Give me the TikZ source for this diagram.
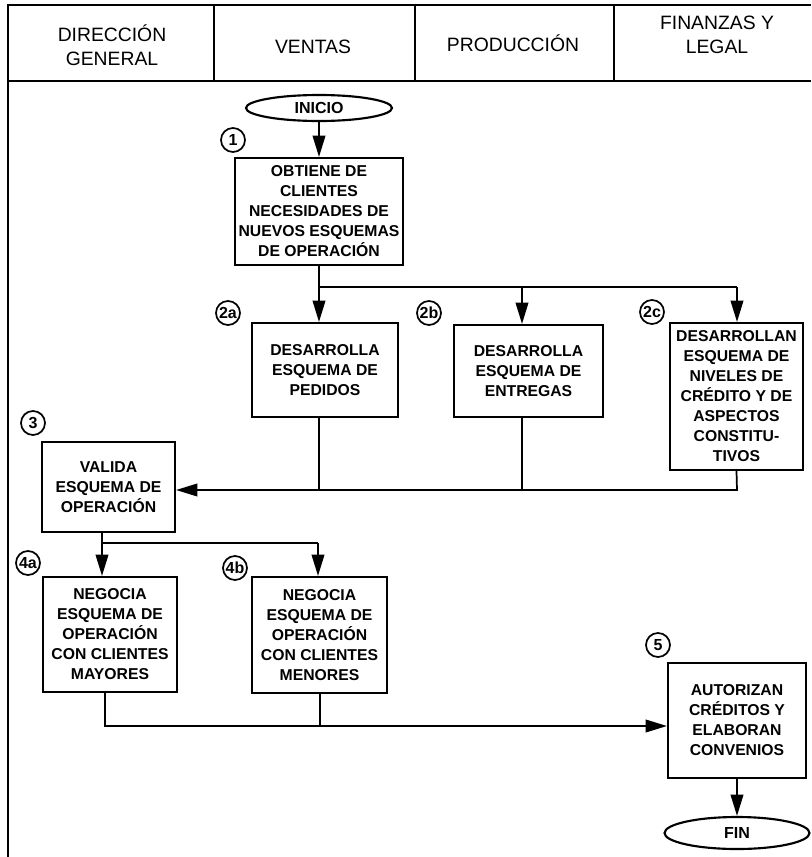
\documentclass[tikz,border=0pt]{standalone}
\usepackage{fontspec}
\setmainfont{Liberation Sans}
\usetikzlibrary{arrows.meta,shapes.geometric}

\tikzset{
  lane/.style={line width=1.2pt},
  hdr/.style={align=center,font=\fontsize{14.5}{18}\selectfont},
  proc/.style={draw,line width=1.6pt,align=center,inner sep=2pt,font=\bfseries\fontsize{11.8}{15}\selectfont},
  term/.style={draw,ellipse,line width=1.6pt,inner sep=0pt,font=\bfseries\fontsize{12}{14}\selectfont},
  num/.style={draw,circle,line width=1.3pt,inner sep=0.5pt,minimum size=18pt,font=\bfseries\fontsize{12}{13}\selectfont},
  flow/.style={line width=1.3pt},
  arr/.style={flow,-{Triangle[length=16pt,width=9.5pt]}}
}

\begin{document}
\begin{tikzpicture}[x=0.75pt,y=-0.75pt]
  \useasboundingbox (0,0) rectangle (811,857);
  % carriles
  \draw[lane] (8,857) -- (8,5) -- (811,5);
  \draw[lane] (8,81) -- (811,81);
  \foreach \xx in {214,415,614} \draw[lane] (\xx,5) -- (\xx,81);
  \node[hdr] (hdg) at (112,45) {DIRECCIÓN\\GENERAL};
  \node[hdr] (hven) at (313,47) {VENTAS};
  \node[hdr] (hpro) at (513,43) {PRODUCCIÓN};
  \node[hdr] (hfin) at (717,35) {FINANZAS Y\\LEGAL};

  % pasos
  \node[term,minimum width=109.5pt,minimum height=19.5pt] (ini) at (319,108) {INICIO};
  \node[proc,minimum width=126pt,minimum height=80.25pt] (b1) at (319,211.5) {OBTIENE DE\\CLIENTES\\NECESIDADES DE\\NUEVOS ESQUEMAS\\DE OPERACIÓN};
  \node[proc,minimum width=109.5pt,minimum height=70.5pt] (b2a) at (325,370) {DESARROLLA\\ESQUEMA DE\\PEDIDOS};
  \node[proc,minimum width=111.75pt,minimum height=69pt] (b2b) at (528.5,371) {DESARROLLA\\ESQUEMA DE\\ENTREGAS};
  \node[proc,minimum width=99.75pt,minimum height=110.25pt] (b2c) at (736.5,396.5) {DESARROLLAN\\ESQUEMA DE\\NIVELES DE\\CRÉDITO Y DE\\ASPECTOS\\CONSTITU-\\TIVOS};
  \node[proc,minimum width=99.75pt,minimum height=67.5pt] (b3) at (108.5,487) {VALIDA\\ESQUEMA DE\\OPERACIÓN};
  \node[proc,minimum width=100.5pt,minimum height=86.25pt] (b4a) at (110,634.5) {NEGOCIA\\ESQUEMA DE\\OPERACIÓN\\CON CLIENTES\\MAYORES};
  \node[proc,minimum width=101.25pt,minimum height=87pt] (b4b) at (319.5,635) {NEGOCIA\\ESQUEMA DE\\OPERACIÓN\\CON CLIENTES\\MENORES};
  \node[proc,minimum width=103.5pt,minimum height=86.25pt] (b5) at (737,720.5) {AUTORIZAN\\CRÉDITOS Y\\ELABORAN\\CONVENIOS};
  \node[term,minimum width=108.75pt,minimum height=24pt] (fin) at (737,833) {FIN};

  % numeros
  \node[num] (n1) at (233,140) {1};
  \node[num] (n2a) at (228,313) {2a};
  \node[num] (n2b) at (429,313) {2b};
  \node[num] (n2c) at (652,312) {2c};
  \node[num] (n3) at (33,423) {3};
  \node[num] (n4a) at (28,563) {4a};
  \node[num] (n4b) at (235,568) {4b};
  \node[num] (n5) at (658,645) {5};

  % conexiones
  \coordinate (sp1) at (319,287);
  \coordinate (k2b) at (522,287);
  \coordinate (k2c) at (737,287);
  \coordinate (rt) at (737,490);
  \coordinate (sp2) at (102,543);
  \coordinate (k4b) at (318,543);
  \coordinate (mg4a) at (105,726);
  \coordinate (mg4b) at (320,726);

  \draw[arr] (ini) -- (b1);
  \draw[flow] (b1.south) -- (sp1) -- (k2c);
  \draw[arr] (sp1) -- (sp1 |- b2a.north);
  \draw[arr] (k2b) -- (k2b |- b2b.north);
  \draw[arr] (k2c) -- (k2c |- b2c.north);

  \draw[flow] (sp1 |- b2a.south) -- (sp1 |- rt);
  \draw[flow] (k2b |- b2b.south) -- (k2b |- rt);
  \draw[arr] (b2c.south) -- (rt) -- (rt -| b3.east);

  \draw[flow] (sp2 |- b3.south) -- (sp2) -- (k4b);
  \draw[arr] (sp2) -- (sp2 |- b4a.north);
  \draw[arr] (k4b) -- (k4b |- b4b.north);

  \draw[flow] (mg4b |- b4b.south) -- (mg4b);
  \draw[arr] (mg4a |- b4a.south) -- (mg4a) -- (mg4a -| b5.west);
  \draw[arr] (b5) -- (fin);
\end{tikzpicture}
\end{document}
